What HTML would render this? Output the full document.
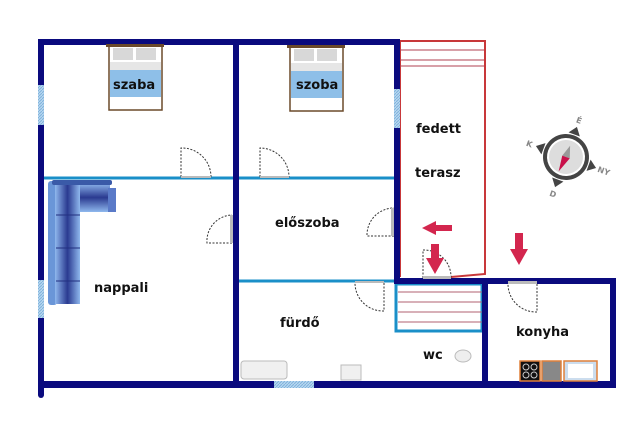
<!DOCTYPE html>
<html><head><style>
html,body{margin:0;padding:0;background:#fff;}
svg{display:block;}
text{font-family:"DejaVu Sans","Liberation Sans",sans-serif;font-weight:bold;font-size:13px;fill:#111;}
</style></head><body>
<svg width="640" height="424" viewBox="0 0 640 424" xmlns="http://www.w3.org/2000/svg">
<defs>
<pattern id="h" width="3" height="3" patternUnits="userSpaceOnUse"><rect width="3" height="3" fill="#b8d8f0"/><path d="M0 3L3 0" stroke="#7fb2dc" stroke-width="1"/></pattern>
<linearGradient id="sf" x1="0" x2="1"><stop offset="0" stop-color="#8fb8ee"/><stop offset=".5" stop-color="#2a3a90"/><stop offset="1" stop-color="#8fb8ee"/></linearGradient>
<linearGradient id="sfv" x1="0" y1="0" x2="0" y2="1"><stop offset="0" stop-color="#8fb8ee"/><stop offset=".5" stop-color="#2a3a90"/><stop offset="1" stop-color="#8fb8ee"/></linearGradient>
</defs>
<!-- terrace -->
<path d="M400 41H485V274L451 277M400 41V277" fill="none" stroke="#c8383a" stroke-width="2"/>
<g stroke="#b04050" stroke-width="1"><line x1="400" y1="50" x2="484" y2="50"/><line x1="400" y1="60" x2="484" y2="60"/><line x1="400" y1="66" x2="484" y2="66"/></g>
<!-- stairs -->
<rect x="396" y="284" width="86" height="47" fill="#fff" stroke="#1a8fc8" stroke-width="3"/>
<g stroke="#b06070" stroke-width="1"><line x1="398" y1="292" x2="482" y2="292"/><line x1="398" y1="302" x2="482" y2="302"/><line x1="398" y1="312" x2="482" y2="312"/><line x1="398" y1="322" x2="482" y2="322"/></g>
<!-- light interior walls -->
<g stroke="#1a8fc8" stroke-width="3"><line x1="44" y1="178" x2="394" y2="178"/><line x1="239" y1="281" x2="394" y2="281"/></g>
<!-- main walls -->
<g fill="#0a0a7e">
<rect x="38" y="39" width="362" height="6"/>
<rect x="38" y="39" width="6" height="359" rx="3"/>
<rect x="233" y="39" width="6" height="348"/>
<rect x="394" y="39" width="6" height="245"/>
<rect x="394" y="278" width="222" height="6"/>
<rect x="610" y="278" width="6" height="110"/>
<rect x="482" y="278" width="6" height="110"/>
<rect x="38" y="381" width="578" height="7"/>
</g>
<!-- windows -->
<rect x="38" y="85" width="6" height="40" fill="url(#h)"/>
<rect x="38" y="280" width="6" height="38" fill="url(#h)"/>
<rect x="394" y="89" width="6" height="39" fill="url(#h)"/>
<rect x="274" y="381" width="40" height="7" fill="url(#h)"/>
<!-- doors -->
<g fill="none" stroke="#333" stroke-width="1" stroke-dasharray="2,1.5">
<path d="M181 177V148A29 29 0 0 1 211 177"/>
<path d="M260 177V148A29 29 0 0 1 289 177"/>
<path d="M232 243H207A26 26 0 0 1 232 215"/>
<path d="M394 236H367A27 27 0 0 1 394 208"/>
<path d="M384 283V311A28 28 0 0 1 355 283"/>
<path d="M423 278V250A27 27 0 0 1 451 278"/>
<path d="M537 284V312A28 28 0 0 1 508 284"/>
</g>
<g fill="#bbb"><rect x="230" y="215" width="3" height="28"/><rect x="391" y="208" width="3" height="28"/><rect x="355" y="281" width="29" height="2"/><rect x="423" y="276" width="28" height="3"/><rect x="508" y="281" width="29" height="3"/><rect x="181" y="176" width="30" height="2"/><rect x="260" y="176" width="29" height="2"/></g>
<!-- beds -->
<g>
<rect x="109" y="46" width="53" height="64" fill="#fff" stroke="#6b4a2a" stroke-width="1.5"/>
<rect x="106" y="44" width="58" height="3" fill="#6b4a2a"/>
<rect x="113" y="48" width="20" height="12" fill="#d8d8d8"/><rect x="136" y="48" width="20" height="12" fill="#d8d8d8"/>
<rect x="110" y="62" width="51" height="8" fill="#e6e6e6"/>
<rect x="110" y="70" width="51" height="27" fill="#8ebfe8"/>
<rect x="290" y="47" width="53" height="64" fill="#fff" stroke="#6b4a2a" stroke-width="1.5"/>
<rect x="287" y="45" width="58" height="3" fill="#6b4a2a"/>
<rect x="294" y="49" width="20" height="12" fill="#d8d8d8"/><rect x="317" y="49" width="20" height="12" fill="#d8d8d8"/>
<rect x="291" y="63" width="51" height="8" fill="#e6e6e6"/>
<rect x="291" y="71" width="51" height="27" fill="#8ebfe8"/>
</g>
<!-- sofa -->
<g>
<rect x="48" y="181" width="9" height="124" rx="3" fill="#6a96d8"/>
<rect x="55" y="183" width="25" height="121" fill="url(#sf)"/>
<rect x="80" y="183" width="30" height="29" fill="url(#sfv)"/>
<rect x="108" y="188" width="8" height="24" fill="#5a7ac8"/>
<rect x="52" y="180" width="60" height="5" rx="2" fill="#3a5aa8"/>
<g stroke="#223080" stroke-width="1"><line x1="56" y1="215" x2="80" y2="215"/><line x1="56" y1="248" x2="80" y2="248"/><line x1="56" y1="281" x2="80" y2="281"/></g>
</g>
<!-- fixtures -->
<rect x="241" y="361" width="46" height="18" rx="3" fill="#f0f0f0" stroke="#bbb"/>
<rect x="341" y="365" width="20" height="15" fill="#f0f0f0" stroke="#bbb"/>
<ellipse cx="463" cy="356" rx="8" ry="6" fill="#eee" stroke="#bbb"/>
<rect x="520" y="361" width="20" height="20" fill="#111" stroke="#e0803a" stroke-width="1.5"/>
<g fill="none" stroke="#ccc" stroke-width="1"><circle cx="526" cy="367" r="3"/><circle cx="534" cy="367" r="3"/><circle cx="526" cy="375" r="3"/><circle cx="534" cy="375" r="3"/></g>
<rect x="542" y="361" width="19" height="20" fill="#888" stroke="#e0803a" stroke-width="1.5"/>
<rect x="564" y="361" width="33" height="20" fill="#cde" stroke="#e0803a" stroke-width="1.5"/>
<rect x="568" y="364" width="25" height="14" fill="#fff"/>
<!-- arrows -->
<g fill="#d3264e">
<path d="M422 228L436 221V225H452V231H436V235Z"/>
<path d="M431 244H439V258H444L435 274L426 258H431Z"/>
<path d="M515 233H523V249H528L519 265L510 249H515Z"/>
</g>
<!-- compass -->
<g transform="translate(566,157) rotate(20)">
<path d="M-6 -24L0 -32L6 -24Z M24 -6L32 0L24 6Z M-6 24L0 32L6 24Z M-24 -6L-32 0L-24 6Z" fill="#444"/>
<circle r="23" fill="#444"/><circle r="19" fill="#fff"/><circle r="17" fill="#ddd"/>
<path d="M0 -12L4 0H-4Z" fill="#999"/><path d="M-4 0H4L-2 16Z" fill="#c8104a"/>
<text x="-3" y="-36" style="font-size:8px;fill:#888">É</text>
<text x="34" y="3" style="font-size:8px;fill:#888">NY</text>
<text x="-42" y="3" style="font-size:8px;fill:#888">K</text>
<text x="-3" y="42" style="font-size:8px;fill:#888">D</text>
</g>
<!-- labels -->
<text x="113" y="89">szaba</text>
<text x="296" y="89">szoba</text>
<text x="416" y="133">fedett</text>
<text x="415" y="177">terasz</text>
<text x="275" y="227">előszoba</text>
<text x="94" y="292">nappali</text>
<text x="280" y="327">fürdő</text>
<text x="516" y="336">konyha</text>
<text x="423" y="359">wc</text>
</svg>
</body></html>
